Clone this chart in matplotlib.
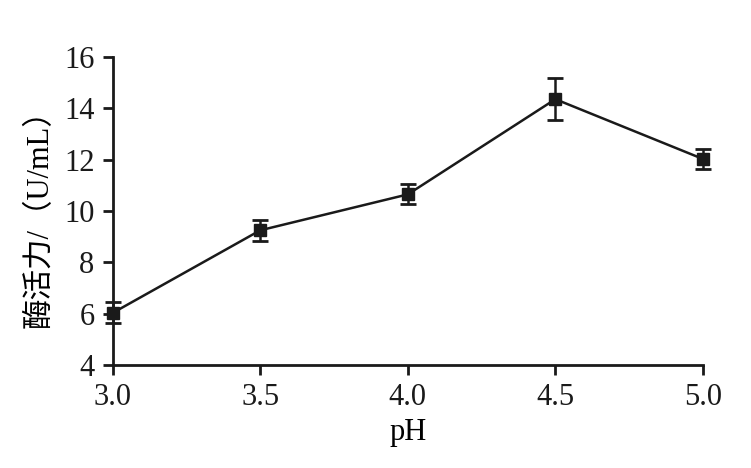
import numpy as np
import matplotlib.pyplot as plt

ph = [3.0, 3.5, 4.0, 4.5, 5.0]
activity = [6.03, 9.25, 10.65, 14.36, 12.03]
err = [0.41, 0.41, 0.39, 0.82, 0.39]

plt.rcParams['font.family'] = ['Liberation Serif', 'Noto Sans CJK SC']

fig = plt.figure(figsize=(7.51, 4.68), dpi=100)
ax = fig.add_axes([0.150, 0.220, 0.786, 0.658])

ax.errorbar(ph, activity, yerr=err, color='#1a1a1a', lw=1.8, marker='s',
            markersize=9, capsize=6, capthick=2, elinewidth=1.8, clip_on=False)

ax.set_xlim(3.0, 5.0)
ax.set_ylim(4, 16)
ax.set_xticks(ph)
ax.set_xticklabels(['3.0', '3.5', '4.0', '4.5', '5.0'])
ax.set_yticks(np.arange(4, 17, 2))
ax.spines['top'].set_visible(False)
ax.spines['right'].set_visible(False)
for s in ['left', 'bottom']:
    ax.spines[s].set_linewidth(2)
    ax.spines[s].set_color('#1a1a1a')
ax.tick_params(direction='out', length=7, width=2, labelsize=22, pad=6, colors='#1a1a1a')
ax.set_xlabel('pH', fontsize=22, labelpad=4)
ax.set_ylabel('酶活力/（U/mL）', fontsize=22, labelpad=7)

fig.savefig('out.png', dpi=100)
